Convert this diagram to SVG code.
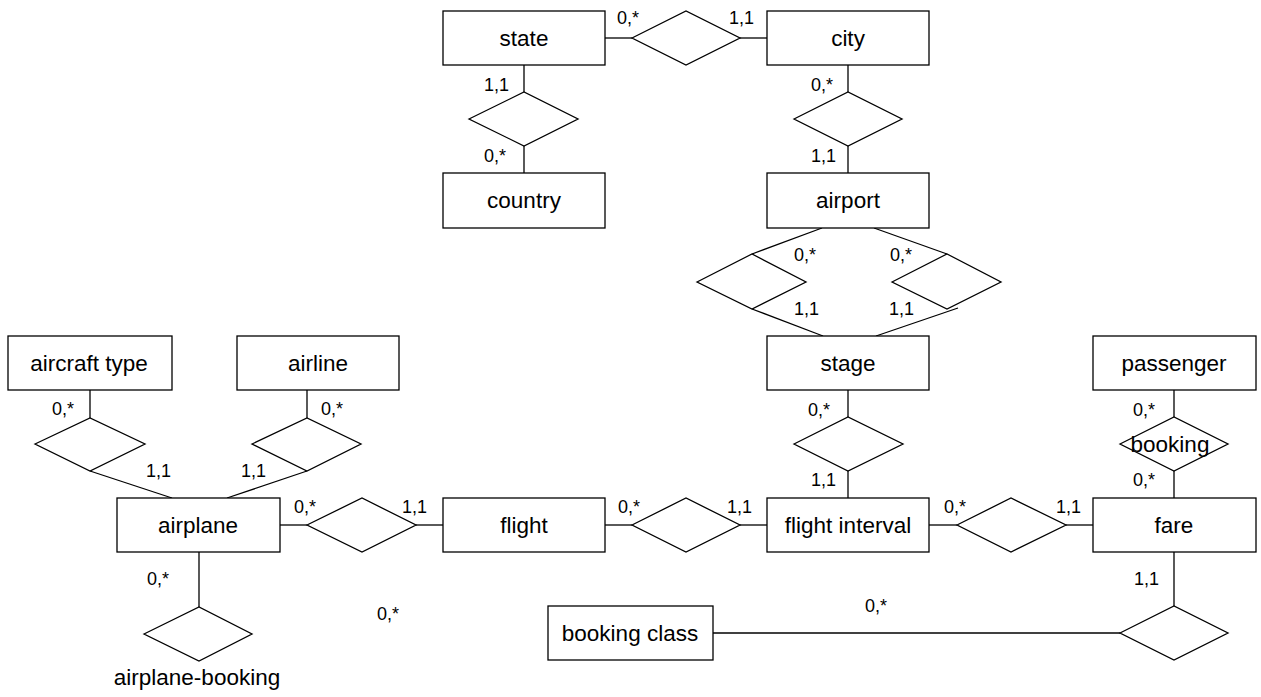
<svg xmlns="http://www.w3.org/2000/svg" width="1261" height="697" viewBox="0 0 1261 697">
<style>
.e{fill:#fff;stroke:#000;stroke-width:1.3}
.d{fill:#fff;stroke:#000;stroke-width:1.3}
.c line,.c polyline{stroke:#000;stroke-width:1.3;fill:none}
.t{font-family:"Liberation Sans",Arial,sans-serif;font-size:22.5px;fill:#000;text-anchor:middle}
.l{font-family:"Liberation Sans",Arial,sans-serif;font-size:18px;fill:#000}
</style>
<rect width="1261" height="697" fill="#fff"/>
<g class="c" id="connectors">
<line x1="605" y1="38" x2="632" y2="38"/><line x1="740" y1="38" x2="767" y2="38"/>
<line x1="524" y1="65" x2="524" y2="92"/><line x1="524" y1="146" x2="524" y2="173"/>
<line x1="848" y1="65" x2="848" y2="92"/><line x1="848" y1="146" x2="848" y2="173"/>
<line x1="822" y1="228" x2="752" y2="254"/><line x1="752" y1="309" x2="823" y2="336"/>
<line x1="874" y1="228" x2="947" y2="254"/><line x1="876" y1="336" x2="958" y2="308"/>
<line x1="848" y1="390" x2="848" y2="417"/><line x1="848" y1="471" x2="848" y2="498"/>
<line x1="90" y1="390" x2="90" y2="418"/><line x1="90" y1="471" x2="172" y2="498"/>
<line x1="307" y1="390" x2="307" y2="418"/><line x1="307" y1="471" x2="227" y2="498"/>
<line x1="280" y1="525" x2="307" y2="525"/><line x1="416" y1="525" x2="443" y2="525"/>
<line x1="605" y1="525" x2="632" y2="525"/><line x1="740" y1="525" x2="767" y2="525"/>
<line x1="929" y1="525" x2="957" y2="525"/><line x1="1066" y1="525" x2="1093" y2="525"/>
<line x1="1174" y1="390" x2="1174" y2="417"/><line x1="1174" y1="471" x2="1174" y2="498"/>
<line x1="1174" y1="552" x2="1174" y2="606"/><line x1="1120" y1="633" x2="713" y2="633"/>
<line x1="199" y1="552" x2="199" y2="607"/>
</g>
<g id="rel-state-city"><polygon class="d" points="632,38 686,11 740,38 686,65"/></g>
<g id="rel-state-country"><polygon class="d" points="469,119 524,92 578,119 524,146"/></g>
<g id="rel-city-airport"><polygon class="d" points="794,119 848,92 902,119 848,146"/></g>
<g id="rel-airport-stage-1"><polygon class="d" points="697,282 752,254 806,282 752,309"/></g>
<g id="rel-airport-stage-2"><polygon class="d" points="892,282 947,254 1001,282 947,309"/></g>
<g id="rel-stage-interval"><polygon class="d" points="794,444 848,417 903,444 848,471"/></g>
<g id="rel-type-airplane"><polygon class="d" points="35,444 90,418 145,444 90,471"/></g>
<g id="rel-airline-airplane"><polygon class="d" points="252,444 307,418 361,444 307,471"/></g>
<g id="rel-airplane-flight"><polygon class="d" points="307,525 362,498 416,525 362,552"/></g>
<g id="rel-flight-interval"><polygon class="d" points="632,525 686,498 740,525 686,552"/></g>
<g id="rel-interval-fare"><polygon class="d" points="957,525 1011,498 1066,525 1011,552"/></g>
<g id="rel-booking"><polygon class="d" points="1120,444 1174,417 1228,444 1174,471"/><text class="t" x="1170" y="452">booking</text></g>
<g id="rel-fare-class"><polygon class="d" points="1120,633 1174,606 1228,633 1174,660"/></g>
<g id="rel-airplane-booking"><polygon class="d" points="144,634 199,607 252,634 199,661"/><text class="t" x="197" y="685">airplane-booking</text></g>
<g id="state"><rect class="e" x="443" y="11" width="162" height="54"/><text class="t" x="524" y="46">state</text></g>
<g id="city"><rect class="e" x="767" y="11" width="162" height="54"/><text class="t" x="848" y="46">city</text></g>
<g id="country"><rect class="e" x="443" y="173" width="162" height="55"/><text class="t" x="524" y="208">country</text></g>
<g id="airport"><rect class="e" x="767" y="173" width="162" height="55"/><text class="t" x="848" y="208">airport</text></g>
<g id="stage"><rect class="e" x="767" y="336" width="162" height="54"/><text class="t" x="848" y="371">stage</text></g>
<g id="aircraft-type"><rect class="e" x="8" y="336" width="164" height="54"/><text class="t" x="89" y="371">aircraft type</text></g>
<g id="airline"><rect class="e" x="237" y="336" width="162" height="54"/><text class="t" x="318" y="371">airline</text></g>
<g id="passenger"><rect class="e" x="1093" y="336" width="163" height="54"/><text class="t" x="1174" y="371">passenger</text></g>
<g id="airplane"><rect class="e" x="117" y="498" width="163" height="54"/><text class="t" x="198" y="533">airplane</text></g>
<g id="flight"><rect class="e" x="443" y="498" width="162" height="54"/><text class="t" x="524" y="533">flight</text></g>
<g id="flight-interval"><rect class="e" x="767" y="498" width="162" height="54"/><text class="t" x="848" y="533">flight interval</text></g>
<g id="fare"><rect class="e" x="1093" y="498" width="163" height="54"/><text class="t" x="1174" y="533">fare</text></g>
<g id="booking-class"><rect class="e" x="548" y="606" width="165" height="54"/><text class="t" x="630" y="641">booking class</text></g>
<g id="labels">
<text class="l" x="617" y="24">0,*</text><text class="l" x="729" y="24">1,1</text>
<text class="l" x="484" y="91">1,1</text><text class="l" x="484" y="162">0,*</text>
<text class="l" x="811" y="91">0,*</text><text class="l" x="811" y="162">1,1</text>
<text class="l" x="794" y="261">0,*</text><text class="l" x="794" y="315">1,1</text>
<text class="l" x="890" y="261">0,*</text><text class="l" x="889" y="315">1,1</text>
<text class="l" x="808" y="416">0,*</text><text class="l" x="811" y="486">1,1</text>
<text class="l" x="52" y="415">0,*</text><text class="l" x="146" y="477">1,1</text>
<text class="l" x="321" y="415">0,*</text><text class="l" x="241" y="477">1,1</text>
<text class="l" x="294" y="513">0,*</text><text class="l" x="402" y="513">1,1</text>
<text class="l" x="618" y="513">0,*</text><text class="l" x="727" y="513">1,1</text>
<text class="l" x="944" y="513">0,*</text><text class="l" x="1056" y="513">1,1</text>
<text class="l" x="1133" y="416">0,*</text><text class="l" x="1133" y="486">0,*</text>
<text class="l" x="1134" y="585">1,1</text><text class="l" x="865" y="612">0,*</text>
<text class="l" x="147" y="585">0,*</text>
<text class="l" x="377" y="620">0,*</text>
</g>
</svg>
